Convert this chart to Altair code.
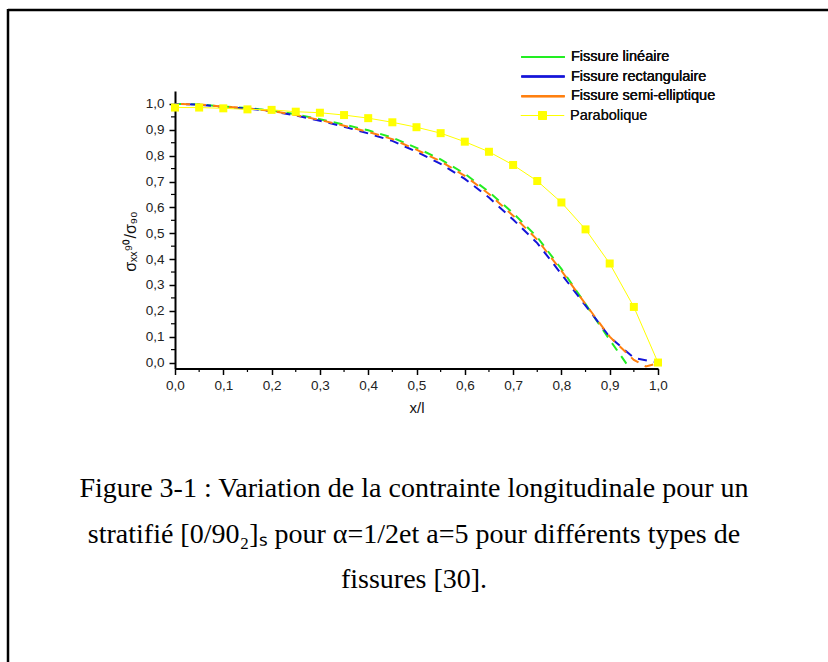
import altair as alt
import pandas as pd

# ---- data ----
series_names = ["Fissure linéaire", "Fissure rectangulaire", "Fissure semi-elliptique", "Parabolique"]
series_colors = ["#22ee22", "#1414d8", "#ff7f0e", "#ffff00"]

x_lin = [0.0, 0.05, 0.1, 0.15, 0.2, 0.25, 0.3, 0.35, 0.4, 0.45, 0.5, 0.55, 0.6, 0.65, 0.7, 0.75, 0.8, 0.85, 0.9, 0.95]
y_lin = [1.0, 0.998, 0.99, 0.984, 0.975, 0.96, 0.941, 0.92, 0.898, 0.87, 0.83, 0.786, 0.73, 0.66, 0.578, 0.485, 0.362, 0.226, 0.088, -0.045]

x_rect = [0.0, 0.05, 0.1, 0.15, 0.2, 0.25, 0.3, 0.35, 0.4, 0.45, 0.5, 0.55, 0.6, 0.65, 0.7, 0.75, 0.8, 0.85, 0.9, 0.95, 1.0]
y_rect = [1.0, 0.997, 0.988, 0.982, 0.972, 0.955, 0.935, 0.912, 0.886, 0.857, 0.815, 0.768, 0.71, 0.638, 0.553, 0.462, 0.342, 0.22, 0.099, 0.018, 0.0]

x_semi = [0.0, 0.05, 0.1, 0.15, 0.2, 0.25, 0.3, 0.35, 0.4, 0.45, 0.5, 0.55, 0.6, 0.65, 0.7, 0.75, 0.8, 0.85, 0.9, 0.95, 0.975, 1.0]
y_semi = [1.0, 0.998, 0.99, 0.983, 0.973, 0.957, 0.938, 0.916, 0.892, 0.864, 0.823, 0.778, 0.722, 0.652, 0.568, 0.475, 0.355, 0.226, 0.1, 0.01, -0.015, -0.003]

x_para = [0.0, 0.05, 0.1, 0.15, 0.2, 0.25, 0.3, 0.35, 0.4, 0.45, 0.5, 0.55, 0.6, 0.65, 0.7, 0.75, 0.8, 0.85, 0.9, 0.95, 1.0]
y_para = [0.986, 0.986, 0.983, 0.979, 0.977, 0.970, 0.966, 0.957, 0.945, 0.929, 0.910, 0.887, 0.854, 0.815, 0.764, 0.702, 0.619, 0.515, 0.383, 0.215, 0.0]

x_ticks = [0.0, 0.1, 0.2, 0.3, 0.4, 0.5, 0.6, 0.7, 0.8, 0.9, 1.0]
minor_ticks = [0.05, 0.15, 0.25, 0.35, 0.45, 0.55, 0.65, 0.75, 0.85, 0.95]

y_title = "σₓₓ⁹⁰/σ₉₀"
x_title = "x/l"
caption = [
    "Figure 3-1 : Variation de la contrainte longitudinale pour un",
    "stratifié [0/90₂]ₛ pour α=1/2et a=5 pour différents types de",
    "fissures [30].",
]

# ---- layout ----
W, H = 483, 277.5
Y_MIN, Y_MAX = -0.023, 1.05

def frame(xs, ys, name):
    return pd.DataFrame({"x": xs, "y": ys, "serie": name})

df_lin = frame(x_lin, y_lin, series_names[0])
df_rect = frame(x_rect, y_rect, series_names[1])
df_semi = frame(x_semi, y_semi, series_names[2])
df_para = frame(x_para, y_para, series_names[3])
df_minor = pd.DataFrame({"x": minor_ticks, "y": minor_ticks})
df_one = pd.DataFrame({"k": [0]})

lab_expr = "replace(format(datum.value, '.1f'), '.', ',')"

x_scale = alt.Scale(domain=[0, 1], nice=False, zero=False)
y_scale = alt.Scale(domain=[Y_MIN, Y_MAX], nice=False, zero=False)
x_axis = alt.Axis(values=x_ticks, labelExpr=lab_expr, title=x_title,
                  titleY=39, titleBaseline="middle", titleFontSize=15,
                  titleFontWeight="normal", tickSize=6, labelPadding=4,
                  labelFlush=False, labelOverlap=False)
y_axis = alt.Axis(values=x_ticks, labelExpr=lab_expr, title=y_title,
                  titleX=-45, titleY=150, titleAlign="center", titleBaseline="middle",
                  titleFontSize=16, titleFontWeight="normal", tickSize=6, labelPadding=5,
                  labelFlush=False, labelOverlap=False)
x_enc = alt.X("x:Q", scale=x_scale, axis=x_axis)
y_enc = alt.Y("y:Q", scale=y_scale, axis=y_axis)

fiss_color = alt.Color("serie:N",
                       scale=alt.Scale(domain=series_names[:3], range=series_colors[:3]),
                       legend=alt.Legend(title=None, orient="none", legendX=358, legendY=-44,
                                         symbolType="M-2.5,0H2.5", symbolSize=300,
                                         symbolStrokeWidth=2, symbolDash=[1, 0], labelOffset=18,
                                         labelFontSize=14.5, labelFont="Liberation Sans",
                                         labelColor="#111", rowPadding=2.6))

def fiss_layer(df, offset):
    return alt.Chart(df).mark_line(strokeWidth=2, strokeDash=[9, 7], strokeDashOffset=offset,
                                   clip=True).encode(x=x_enc, y=y_enc, color=fiss_color)

l_lin = fiss_layer(df_lin, 0)
l_rect = fiss_layer(df_rect, 5)
l_semi = fiss_layer(df_semi, 10)

para_color = alt.Color("serie:N",
                       scale=alt.Scale(domain=[series_names[3]], range=[series_colors[3]]),
                       legend=alt.Legend(title=None, orient="none", legendX=358, legendY=15,
                                         symbolType="M-2.5,0H2.5M-0.45,-0.45H0.45V0.45H-0.45Z",
                                         symbolSize=300, symbolStrokeWidth=1,
                                         symbolFillColor="#ffff00", symbolStrokeColor="#ffff00",
                                         labelOffset=18, labelFontSize=14.5,
                                         labelFont="Liberation Sans", labelColor="#111"))

l_para_line = alt.Chart(df_para).mark_line(strokeWidth=1).encode(x=x_enc, y=y_enc, color=para_color)
l_para_pts = alt.Chart(df_para).mark_point(shape="square", filled=True, size=64, opacity=1).encode(
    x=x_enc, y=y_enc, color=para_color)

x_minor = alt.Chart(df_minor).mark_rule(color="black", strokeWidth=1.2).encode(
    x=x_enc, y=alt.value(H), y2=alt.value(H + 3.5))
y_minor = alt.Chart(df_minor).mark_rule(color="black", strokeWidth=1.2).encode(
    y=y_enc, x=alt.value(0), x2=alt.value(-4))

border_top = alt.Chart(df_one).mark_rule(color="black", strokeWidth=2.5).encode(
    x=alt.value(-167), x2=alt.value(660), y=alt.value(-81))
border_left = alt.Chart(df_one).mark_rule(color="black", strokeWidth=2.5).encode(
    x=alt.value(-167), y=alt.value(-82), y2=alt.value(580))

caption_text = alt.Chart(df_one).mark_text(
    text=caption, font="Liberation Serif", fontSize=28, lineHeight=45.5,
    align="center", baseline="alphabetic", color="black",
).encode(x=alt.value(239), y=alt.value(406))

chart = alt.layer(
    border_top, border_left, x_minor, y_minor,
    l_lin, l_rect, l_semi, l_para_line, l_para_pts, caption_text,
).resolve_scale(color="independent").properties(
    width=W, height=H,
    autosize=alt.AutoSizeParams(type="none"),
    padding={"left": 175, "top": 91, "right": 170, "bottom": 293.5},
    background="white",
).configure_view(stroke="transparent").configure_axis(
    domainColor="black", domainWidth=2, tickColor="black", tickWidth=1.5,
    labelFont="Liberation Sans", labelFontSize=13.5, labelColor="#222",
    titleFont="Liberation Sans", titleColor="#111", grid=False,
)

chart.save("out.html", embed_options={"renderer": "svg", "actions": False})
